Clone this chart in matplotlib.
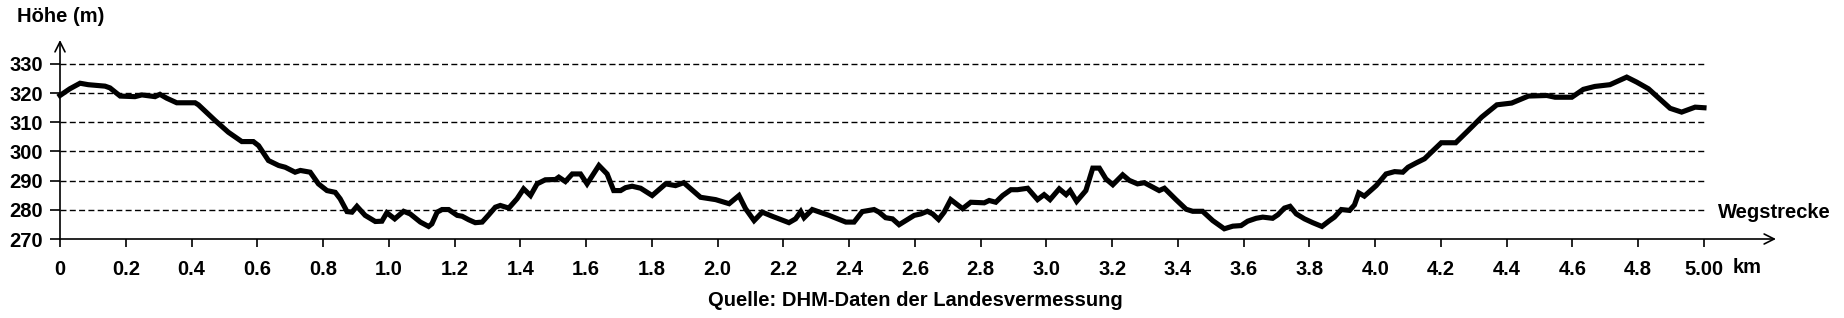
import numpy as np
import matplotlib
matplotlib.use('Agg')
import matplotlib.pyplot as plt

# Wegstrecke in km, Hoehe in m
strecke_km = [0.000, 0.030, 0.061, 0.086, 0.137, 0.152, 0.183, 0.228, 0.249, 0.289,
              0.304, 0.324, 0.355, 0.411, 0.421, 0.472, 0.512, 0.553, 0.588, 0.604,
              0.634, 0.665, 0.685, 0.715, 0.731, 0.761, 0.786, 0.812, 0.837, 0.852,
              0.873, 0.888, 0.903, 0.928, 0.959, 0.979, 0.994, 1.018, 1.045, 1.065,
              1.096, 1.121, 1.131, 1.147, 1.162, 1.182, 1.208, 1.223, 1.243, 1.263,
              1.284, 1.304, 1.324, 1.339, 1.365, 1.390, 1.410, 1.431, 1.451, 1.476,
              1.507, 1.517, 1.537, 1.558, 1.583, 1.603, 1.639, 1.664, 1.684, 1.705,
              1.720, 1.740, 1.766, 1.801, 1.842, 1.872, 1.897, 1.948, 1.994, 2.035,
              2.065, 2.085, 2.111, 2.136, 2.166, 2.217, 2.237, 2.253, 2.263, 2.288,
              2.339, 2.390, 2.415, 2.440, 2.476, 2.491, 2.511, 2.532, 2.552, 2.572,
              2.598, 2.618, 2.638, 2.654, 2.672, 2.689, 2.709, 2.745, 2.770, 2.811,
              2.826, 2.846, 2.867, 2.892, 2.912, 2.943, 2.973, 2.993, 3.011, 3.039,
              3.060, 3.072, 3.092, 3.120, 3.141, 3.161, 3.181, 3.202, 3.232, 3.252,
              3.277, 3.298, 3.323, 3.343, 3.359, 3.394, 3.425, 3.445, 3.475, 3.506,
              3.541, 3.567, 3.592, 3.612, 3.638, 3.658, 3.688, 3.704, 3.724, 3.741,
              3.760, 3.785, 3.810, 3.838, 3.861, 3.876, 3.897, 3.922, 3.937, 3.950,
              3.967, 4.003, 4.033, 4.059, 4.084, 4.100, 4.125, 4.150, 4.201, 4.245,
              4.283, 4.324, 4.370, 4.415, 4.466, 4.522, 4.547, 4.598, 4.633, 4.668,
              4.714, 4.765, 4.795, 4.831, 4.897, 4.932, 4.973, 5.000]
hoehe_m = [319.2, 321.5, 323.4, 322.9, 322.4, 321.8, 319.0, 318.8, 319.4, 318.8,
           319.6, 318.3, 316.7, 316.7, 316.0, 310.6, 306.6, 303.4, 303.4, 302.0,
           296.9, 295.2, 294.6, 292.9, 293.5, 292.9, 288.9, 286.6, 286.0, 283.8,
           279.4, 279.2, 281.2, 278.1, 276.0, 276.1, 279.0, 276.9, 279.5, 278.6,
           275.8, 274.3, 275.2, 279.2, 280.1, 280.1, 278.1, 277.8, 276.6, 275.6,
           275.8, 278.3, 280.9, 281.5, 280.6, 283.8, 287.2, 284.9, 288.9, 290.3,
           290.4, 291.2, 289.7, 292.3, 292.3, 288.9, 295.2, 292.3, 286.6, 286.6,
           287.6, 288.1, 287.4, 284.9, 288.9, 288.3, 289.3, 284.3, 283.5, 282.1,
           284.9, 280.4, 276.3, 279.2, 277.8, 275.6, 276.9, 279.4, 277.3, 280.1,
           278.1, 275.8, 275.8, 279.4, 280.1, 279.2, 277.3, 276.9, 274.9, 276.3,
           278.1, 278.6, 279.5, 278.6, 276.7, 279.2, 283.5, 280.4, 282.6, 282.4,
           283.2, 282.6, 284.9, 286.9, 286.9, 287.4, 283.5, 285.2, 283.5, 287.2,
           285.2, 286.6, 282.9, 286.6, 294.3, 294.3, 290.6, 288.6, 292.0, 290.1,
           288.9, 289.3, 287.8, 286.6, 287.4, 283.5, 280.2, 279.5, 279.5, 276.3,
           273.5, 274.4, 274.6, 276.1, 277.1, 277.5, 277.1, 278.3, 280.6, 281.2,
           278.6, 276.9, 275.6, 274.3, 276.3, 277.5, 280.1, 279.8, 281.7, 285.8,
           284.7, 288.3, 292.3, 293.1, 292.9, 294.6, 296.1, 297.5, 303.0, 303.0,
           307.2, 311.8, 316.0, 316.6, 319.0, 319.2, 318.6, 318.6, 321.3, 322.3,
           322.9, 325.5, 323.8, 321.5, 314.8, 313.5, 315.2, 315.0]

x_ticks = [round(0.2 * i, 1) for i in range(26)]
x_labels = ['0'] + ['%.1f' % v for v in x_ticks[1:-1]] + ['5.00']
y_ticks = [270, 280, 290, 300, 310, 320, 330]

W, H = 1844, 318
fig = plt.figure(figsize=(W / 100, H / 100), dpi=100)
fig.patch.set_facecolor('white')

# Achsen in Pixeln: y-Achse bei x=60, x-Achse bei y=239, Pfeile bis 1776 bzw. 40
ax = fig.add_axes([60 / W, (H - 239) / H, (1776 - 60) / W, (239 - 40) / H])
px_km = 328.8
px_m = 2.917
ax.set_xlim(0, (1776 - 60) / px_km)
ax.set_ylim(270, 270 + (239 - 40) / px_m)

schrift = 'Liberation Sans'
fs = 14.5

# gestrichelte Hilfslinien
ax.hlines(y_ticks[1:], 0, 5.0, colors='black', linestyles=(0, (4.3, 2.4)), lw=1.0)

ax.plot(strecke_km, hoehe_m, color='black', lw=3.7, solid_joinstyle='miter', clip_on=False)

for s in ['top', 'right', 'left', 'bottom']:
    ax.spines[s].set_visible(False)

# Achsen mit Pfeilen
ax.annotate('', xy=(1, 0), xycoords='axes fraction', xytext=(0, 0),
            arrowprops=dict(arrowstyle='->', lw=1.2, color='black', shrinkA=0, shrinkB=0,
                            mutation_scale=18))
ax.annotate('', xy=(0, 1), xycoords='axes fraction', xytext=(0, 0),
            arrowprops=dict(arrowstyle='->', lw=1.2, color='black', shrinkA=0, shrinkB=0,
                            mutation_scale=18))

ax.set_xticks(x_ticks)
ax.set_xticklabels(x_labels, fontsize=fs, fontweight='bold', family=schrift)
ax.set_yticks(y_ticks)
ax.set_yticklabels([str(v) for v in y_ticks], fontsize=fs, fontweight='bold', family=schrift)
ax.tick_params(axis='x', direction='out', length=6, width=1.2, pad=9)
ax.tick_params(axis='y', direction='out', length=7, width=1.2, pad=5)

ax.annotate('km', xy=(5.0, 270), xycoords='data', xytext=(29, -28),
            textcoords='offset pixels', ha='left', va='center',
            fontsize=fs, fontweight='bold', family=schrift)

fig.text(17 / W, 1 - 17 / H, 'Höhe (m)', ha='left', va='center',
         fontsize=fs, fontweight='bold', family=schrift)
fig.text(1718 / W, 1 - 213 / H, 'Wegstrecke', ha='left', va='center',
         fontsize=fs, fontweight='bold', family=schrift)
fig.text(915 / W, 1 - 300 / H, 'Quelle: DHM-Daten der Landesvermessung', ha='center', va='center',
         fontsize=fs, fontweight='bold', family=schrift)

fig.savefig('out.png', dpi=100, facecolor='white')
